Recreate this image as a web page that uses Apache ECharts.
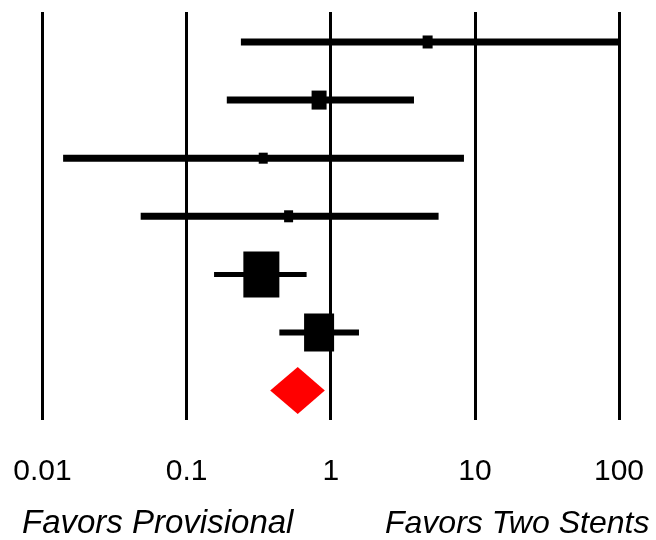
<!DOCTYPE html>
<html>
<head>
<meta charset="utf-8">
<script src="https://cdn.jsdelivr.net/npm/echarts@6/dist/echarts.min.js"></script>
<style>
html,body{margin:0;padding:0;background:#fff;}
#main{width:656px;height:540px;}
</style>
</head>
<body>
<div id="main"></div>
<script>
// ---- data ----
const rowIndex = [0, 1, 2, 3, 4, 5];
const pointEstimate = [4.7, 0.83, 0.34, 0.51, 0.33, 0.83];
const ciLower = [0.238, 0.19, 0.0139, 0.048, 0.155, 0.44];
const ciUpper = [100, 3.78, 8.4, 5.6, 0.68, 1.57];
const pooledRow = 6;
const pooledEstimate = 0.59;
const pooledLower = 0.38;
const pooledUpper = 0.91;
const tickValues = [0.01, 0.1, 1, 10, 100];
const tickLabels = ['0.01', '0.1', '1', '10', '100'];
const leftLabel = 'Favors Provisional';
const rightLabel = 'Favors Two Stents';

// ---- styles ----
const markerSizes = [[10, 13], [15, 19], [9, 11], [9, 12], [36, 46], [30, 38]];
const ciWidths = [7, 7, 7, 7, 5, 6];

const chart = echarts.init(document.getElementById('main'));

const ciData = rowIndex.map((r, i) => [ciLower[i], ciUpper[i], r, ciWidths[i]]);
const ptData = rowIndex.map((r, i) => ({ value: [pointEstimate[i], r], symbolSize: markerSizes[i] }));

chart.setOption({
  animation: false,
  backgroundColor: '#fff',
  grid: { left: 42.5, right: 37, top: 12, bottom: 120 },
  xAxis: {
    type: 'log',
    logBase: 10,
    min: 0.01,
    max: 100,
    axisLine: { show: false },
    axisTick: { show: false },
    splitLine: { show: true, lineStyle: { color: '#000', width: 3, type: 'solid' } },
    axisLabel: {
      margin: 37,
      color: '#000',
      fontSize: 30,
      fontFamily: '"Liberation Sans", Arial, sans-serif',
      formatter: function (v) {
        for (let k = 0; k < tickValues.length; k++) {
          if (Math.abs(Math.log10(v) - Math.log10(tickValues[k])) < 1e-6) return tickLabels[k];
        }
        return '';
      }
    }
  },
  yAxis: {
    type: 'value',
    inverse: true,
    min: -0.516,
    max: 6.506,
    show: false,
    splitLine: { show: false }
  },
  series: [
    {
      type: 'custom',
      data: ciData,
      renderItem: function (params, api) {
        const a = api.coord([api.value(0), api.value(2)]);
        const b = api.coord([api.value(1), api.value(2)]);
        return {
          type: 'line',
          shape: { x1: a[0], y1: a[1], x2: b[0], y2: b[1] },
          style: { stroke: '#000', lineWidth: api.value(3) }
        };
      },
      z: 2
    },
    {
      type: 'scatter',
      symbol: 'rect',
      itemStyle: { color: '#000', opacity: 1 },
      data: ptData,
      z: 3
    },
    {
      type: 'custom',
      data: [[pooledLower, pooledEstimate, pooledUpper, pooledRow]],
      renderItem: function (params, api) {
        const l = api.coord([api.value(0), api.value(3)]);
        const c = api.coord([api.value(1), api.value(3)]);
        const r = api.coord([api.value(2), api.value(3)]);
        const h = 23.5;
        return {
          type: 'polygon',
          shape: { points: [[l[0], l[1]], [c[0], c[1] - h], [r[0], r[1]], [c[0], c[1] + h]] },
          style: { fill: '#ff0000', stroke: null }
        };
      },
      z: 3
    }
  ],
  graphic: [
    {
      type: 'text',
      left: 22,
      top: 507,
      style: {
        text: leftLabel,
        fill: '#000',
        font: 'italic 33px "Liberation Sans", Arial, sans-serif'
      }
    },
    {
      type: 'text',
      left: 385,
      top: 508,
      style: {
        text: rightLabel,
        fill: '#000',
        font: 'italic 32px "Liberation Sans", Arial, sans-serif'
      }
    }
  ]
});
</script>
</body>
</html>
